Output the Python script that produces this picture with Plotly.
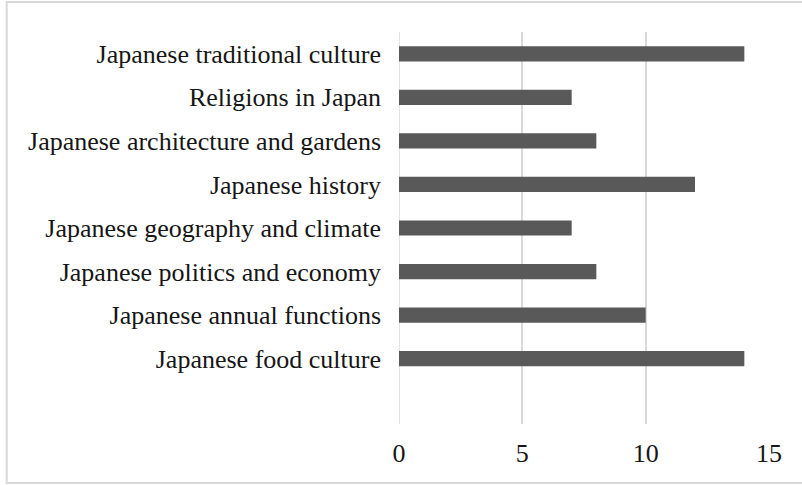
import plotly.graph_objects as go

# Topics, listed bottom-to-top as they appear on the category axis
topics = [
    "Japanese food culture",
    "Japanese annual functions",
    "Japanese politics and economy",
    "Japanese geography and climate",
    "Japanese history",
    "Japanese architecture and gardens",
    "Religions in Japan",
    "Japanese traditional culture",
]
counts = [14, 10, 8, 7, 12, 8, 7, 14]
x_ticks = [0, 5, 10, 15]

FONT = "Liberation Serif"
BAR_COLOR = "#595959"
GRID_COLOR = "#d9d9d9"
TEXT_COLOR = "#161616"

fig = go.Figure(
    go.Bar(
        x=counts,
        y=topics,
        orientation="h",
        width=0.35,
        marker=dict(color=BAR_COLOR, line=dict(width=0)),
        hoverinfo="x+y",
    )
)

# plot-area geometry in pixels
W, H = 802, 485
L, R, T, B = 399, 33.3, 32, 61
pw, ph = W - L - R, H - T - B

shapes = [
    # chart-area frame
    dict(
        type="rect",
        xref="paper",
        yref="paper",
        x0=(7 - L) / pw,
        x1=(810 - L) / pw,
        y0=(H - B - 483) / ph,
        y1=(H - B - 2) / ph,
        line=dict(color=GRID_COLOR, width=2),
        fillcolor="rgba(0,0,0,0)",
        layer="below",
    ),
    # gridline at the axis origin (sits on the plot edge)
    dict(
        type="line",
        xref="x",
        yref="paper",
        x0=x_ticks[0],
        x1=x_ticks[0],
        y0=0,
        y1=1,
        line=dict(color=GRID_COLOR, width=1.5),
        layer="below",
    ),
]

fig.update_layout(
    width=W,
    height=H,
    margin=dict(l=L, r=R, t=T, b=B, pad=0),
    paper_bgcolor="white",
    plot_bgcolor="white",
    showlegend=False,
    font=dict(family=FONT, size=26, color=TEXT_COLOR),
    xaxis=dict(
        range=[0, 15],
        tickvals=x_ticks,
        ticktext=[str(v) for v in x_ticks],
        showgrid=True,
        gridcolor=GRID_COLOR,
        gridwidth=1.5,
        zeroline=False,
        showline=False,
        ticks="",
        ticklabelstandoff=11,
        tickfont=dict(family=FONT, size=26, color=TEXT_COLOR),
        fixedrange=True,
    ),
    yaxis=dict(
        type="category",
        categoryorder="array",
        categoryarray=topics,
        range=[-1.5, len(topics) - 0.5],
        showgrid=False,
        zeroline=False,
        showline=False,
        ticks="",
        ticklabelstandoff=17,
        tickfont=dict(family=FONT, size=26, color=TEXT_COLOR),
        fixedrange=True,
    ),
    shapes=shapes,
)

fig.write_html("out.html")
